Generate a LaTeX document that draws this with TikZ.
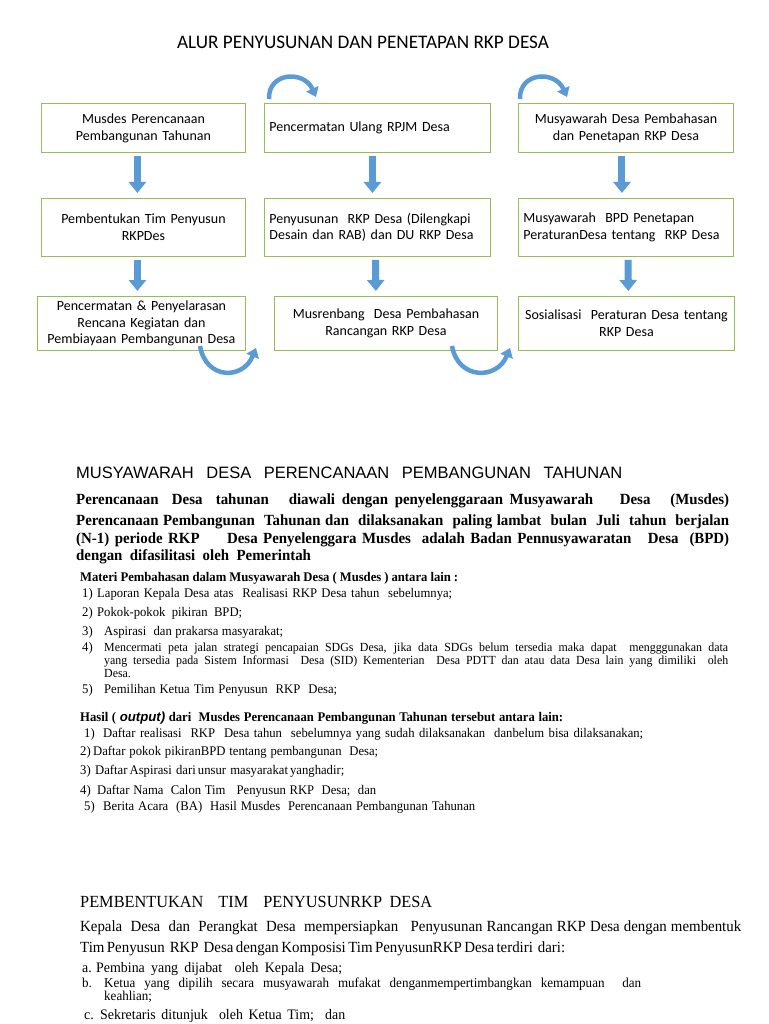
\documentclass[tikz,border=0pt]{standalone}
\usepackage{fontspec}
\setmainfont{Liberation Serif}
\newfontfamily\calf{Carlito}
\newfontfamily\arf{Liberation Sans}
\newfontfamily\tnr[FakeStretch=0.96]{Liberation Serif}
\usetikzlibrary{arrows.meta}
\definecolor{boxgreen}{HTML}{9BBB59}
\definecolor{arrblue}{HTML}{5B9BD5}
\begin{document}
\begin{tikzpicture}[x=1pt,y=-1pt,
  flowbox/.style={draw=boxgreen, line width=0.9pt, fill=white, anchor=north west,
    inner xsep=5pt, inner ysep=0pt, font=\calf\fontsize{14}{16.8}\selectfont},
  downarrow/.style={arrblue, line width=7pt, -{Triangle[length=11pt,width=17pt]},
    shorten <=3pt, shorten >=5pt},
  curvarrow/.style={arrblue, line width=4.5pt, -{Triangle[length=9pt,width=13pt]}},
  bodyline/.style={anchor=base west, inner sep=0pt, font=\tnr\fontsize{13.2}{14}\selectfont},
  smallline/.style={anchor=base west, inner sep=0pt, font=\tnr\fontsize{12.4}{13}\selectfont},
  boldline/.style={anchor=base west, inner sep=0pt, font=\tnr\bfseries\fontsize{13.2}{14}\selectfont},
  paraline/.style={anchor=base west, inner sep=0pt, font=\tnr\bfseries\fontsize{15.5}{17}\selectfont},
  pemline/.style={anchor=base west, inner sep=0pt, font=\tnr\fontsize{15.5}{17}\selectfont},
  itemline/.style={anchor=base west, inner sep=0pt, font=\tnr\fontsize{14.5}{16}\selectfont},
  itemsmall/.style={anchor=base west, inner sep=0pt, font=\tnr\fontsize{13.6}{15}\selectfont}
]
\useasboundingbox (0,0) rectangle (768,1024);
\fill[white] (0,0) rectangle (768,1024);

% title
\node[anchor=base, inner sep=0pt, font=\calf\fontsize{19.2}{22}\selectfont] (title) at (363,49)
  {ALUR PENYUSUNAN DAN PENETAPAN RKP DESA};

% flow boxes
\node[flowbox, minimum width=204pt, minimum height=49pt, text width=194pt, align=center] (r1a) at (41,103)
  {Musdes Perencanaan\\Pembangunan Tahunan};
\node[flowbox, minimum width=226pt, minimum height=49pt, text width=216pt, align=left] (r1b) at (264,103)
  {Pencermatan Ulang RPJM Desa};
\node[flowbox, minimum width=215pt, minimum height=49pt, text width=205pt, align=center] (r1c) at (518,103)
  {Musyawarah Desa Pembahasan\\dan Penetapan RKP Desa};

\node[flowbox, minimum width=204pt, minimum height=58pt, text width=194pt, align=center] (r2a) at (41,198)
  {Pembentukan Tim Penyusun\\RKPDes};
\node[flowbox, minimum width=226pt, minimum height=58pt, text width=216pt, align=left] (r2b) at (264,198)
  {Penyusunan\ \ RKP Desa (Dilengkapi\\Desain dan RAB) dan DU RKP Desa};
\node[flowbox, minimum width=215pt, minimum height=58pt, text width=205pt, align=left] (r2c) at (518,198)
  {Musyawarah\ \ BPD Penetapan\\PeraturanDesa tentang\ \ RKP Desa};

\node[flowbox, minimum width=208pt, minimum height=54pt, text width=198pt, align=center] (r3a) at (37,296)
  {Pencermatan \& Penyelarasan\\Rencana Kegiatan dan\\Pembiayaan Pembangunan Desa};
\node[flowbox, minimum width=223pt, minimum height=54pt, text width=213pt, align=center] (r3b) at (274,296)
  {Musrenbang\ \ Desa Pembahasan\\Rancangan RKP Desa};
\node[flowbox, minimum width=216pt, minimum height=54pt, text width=206pt, align=center] (r3c) at (518,296)
  {Sosialisasi\ \ Peraturan Desa tentang\\RKP Desa};

% straight arrows
\draw[downarrow] ([xshift=-6pt]r1a.south) -- ([xshift=-6pt]r2a.north);
\draw[downarrow] ([xshift=-6pt]r2a.south) -- ([xshift=-4pt]r3a.north);
\draw[downarrow] ([xshift=-5pt]r1b.south) -- ([xshift=-5pt]r2b.north);
\draw[downarrow] ([xshift=-2pt]r2b.south) -- ([xshift=-10pt]r3b.north);
\draw[downarrow] ([xshift=-4pt]r1c.south) -- ([xshift=-4pt]r2c.north);
\draw[downarrow] ([xshift=2pt]r2c.south) -- ([xshift=2pt]r3c.north);

% curved arrows
\coordinate (ca1s) at (269,99);
\coordinate (ca1e) at (316,97);
\coordinate (ca2s) at (520,99);
\coordinate (ca2e) at (567,97);
\coordinate (cb1s) at (200,346);
\coordinate (cb1e) at (256,348);
\coordinate (cb2s) at (452,346);
\coordinate (cb2e) at (510,348);
\draw[curvarrow] (ca1s) .. controls (268,72) and (304,70) .. (ca1e);
\draw[curvarrow] (ca2s) .. controls (519,72) and (555,70) .. (ca2e);
\draw[curvarrow] (cb1s) .. controls (206,380) and (243,380) .. (cb1e);
\draw[curvarrow] (cb2s) .. controls (458,380) and (497,380) .. (cb2e);

% section 1
\node[anchor=base west, inner sep=0pt, font=\arf\fontsize{16.5}{18}\selectfont] (sec1) at (76,478)
  {\makebox[546pt][s]{MUSYAWARAH\ \ DESA\ \ PERENCANAAN\ \ PEMBANGUNAN\ \ TAHUNAN}};
\node[paraline] (p1) at (76,504) {\makebox[653pt][s]{Perencanaan\ \ Desa\ \ tahunan\ \ \ diawali dengan penyelenggaraan Musyawarah\ \ \ \ Desa\ \ \ (Musdes)}};
\node[paraline] (p2) at (76,525) {\makebox[653pt][s]{Perencanaan Pembangunan\ \ Tahunan dan\ \ dilaksanakan\ \ paling lambat\ \ bulan\ \ Juli\ \ tahun\ \ berjalan}};
\node[paraline] (p3) at (76,543) {\makebox[653pt][s]{(N-1) periode RKP\ \ \ \ \ Desa Penyelenggara Musdes\ \ adalah Badan Pennusyawaratan\ \ \ Desa\ \ (BPD)}};
\node[paraline] (p4) at (76,560) {dengan\ \ difasilitasi\ \ oleh\ \ Pemerintah};

\node[boldline] (mh) at (80,581) {\makebox[378pt][s]{Materi Pembahasan dalam Musyawarah Desa ( Musdes ) antara lain :}};
\node[bodyline] (m1n) at (82,597) {1)};
\node[bodyline] (m1) at (97,597) {\makebox[355pt][s]{Laporan Kepala Desa atas\ \ Realisasi RKP Desa tahun\ \ sebelumnya;}};
\node[bodyline] (m2n) at (82,616) {2)};
\node[bodyline] (m2) at (97,616) {\makebox[145pt][s]{Pokok-pokok pikiran BPD;}};
\node[bodyline] (m3n) at (82,635) {3)};
\node[bodyline] (m3) at (104,635) {\makebox[179pt][s]{Aspirasi\ \ dan prakarsa masyarakat;}};
\node[bodyline] (m4n) at (82,651) {4)};
\node[smallline] (m4a) at (104,651) {\makebox[624pt][s]{Mencermati peta jalan strategi pencapaian SDGs Desa, jika data SDGs belum tersedia maka dapat\ \ mengggunakan data}};
\node[smallline] (m4b) at (104,664) {\makebox[624pt][s]{yang tersedia pada Sistem Informasi\ \ Desa (SID) Kementerian\ \ Desa PDTT dan atau data Desa lain yang dimiliki\ \ oleh}};
\node[smallline] (m4c) at (104,677) {Desa.};
\node[bodyline] (m5n) at (82,693) {5)};
\node[bodyline] (m5) at (104,693) {\makebox[233pt][s]{Pemilihan Ketua Tim Penyusun\ \ RKP\ \ Desa;}};

\node[boldline] (hh) at (80,721) {\makebox[483pt][s]{Hasil (\ {\arf\itshape output)} dari\ \ Musdes Perencanaan Pembangunan Tahunan tersebut antara lain:}};
\node[bodyline] (h1n) at (84,737) {1)};
\node[bodyline] (h1) at (103,737) {\makebox[540pt][s]{Daftar realisasi\ \ RKP\ \ Desa tahun\ \ sebelumnya yang sudah dilaksanakan\ \ danbelum bisa dilaksanakan;}};
\node[bodyline] (h2n) at (80,755) {2)};
\node[bodyline] (h2) at (93,755) {\makebox[285pt][s]{Daftar pokok pikiranBPD tentang pembangunan\ \ Desa;}};
\node[bodyline] (h3n) at (80,774) {3)};
\node[bodyline] (h3) at (95,774) {\makebox[235pt][s]{Daftar Aspirasi\ \ dari unsur\ \ masyarakat yanghadir;}};
\node[bodyline] (h4n) at (80,794) {4)};
\node[bodyline] (h4) at (97,794) {\makebox[279pt][s]{Daftar Nama\ \ Calon Tim\ \ \ Penyusun RKP\ \ Desa;\ \ dan}};
\node[bodyline] (h5n) at (84,810) {5)};
\node[bodyline] (h5) at (103,810) {\makebox[372pt][s]{Berita Acara\ \ (BA)\ \ Hasil Musdes\ \ Perencanaan Pembangunan Tahunan}};

% section 2
\node[anchor=base west, inner sep=0pt, font=\tnr\fontsize{17}{19}\selectfont] (sec2) at (80,907)
  {\makebox[352pt][s]{PEMBENTUKAN\ \ TIM\ \ PENYUSUNRKP DESA}};
\node[pemline] (k1) at (80,931) {\makebox[661pt][s]{Kepala\ \ Desa\ \ dan\ \ Perangkat\ \ Desa\ \ mempersiapkan\ \ \ Penyusunan Rancangan RKP Desa dengan membentuk}};
\node[pemline] (k2) at (80,952) {\makebox[467pt][s]{Tim Penyusun\ \ RKP\ \ Desa dengan Komposisi Tim PenyusunRKP Desa terdiri\ \ dari:}};
\node[itemline] (an) at (82,972) {a.};
\node[itemline] (a) at (96,972) {\makebox[246pt][s]{Pembina yang dijabat\ \ oleh Kepala Desa;}};
\node[itemsmall] (bn) at (82,987) {b.};
\node[itemsmall] (b1) at (104,987) {\makebox[537pt][s]{Ketua yang dipilih secara musyawarah mufakat denganmempertimbangkan kemampuan\ \ dan}};
\node[itemsmall] (b2) at (104,1000) {keahlian;};
\node[itemline] (cn) at (84,1019) {c.};
\node[itemline] (c) at (100,1019) {\makebox[245pt][s]{Sekretaris ditunjuk\ \ oleh Ketua Tim;\ \ dan}};
\end{tikzpicture}
\end{document}
